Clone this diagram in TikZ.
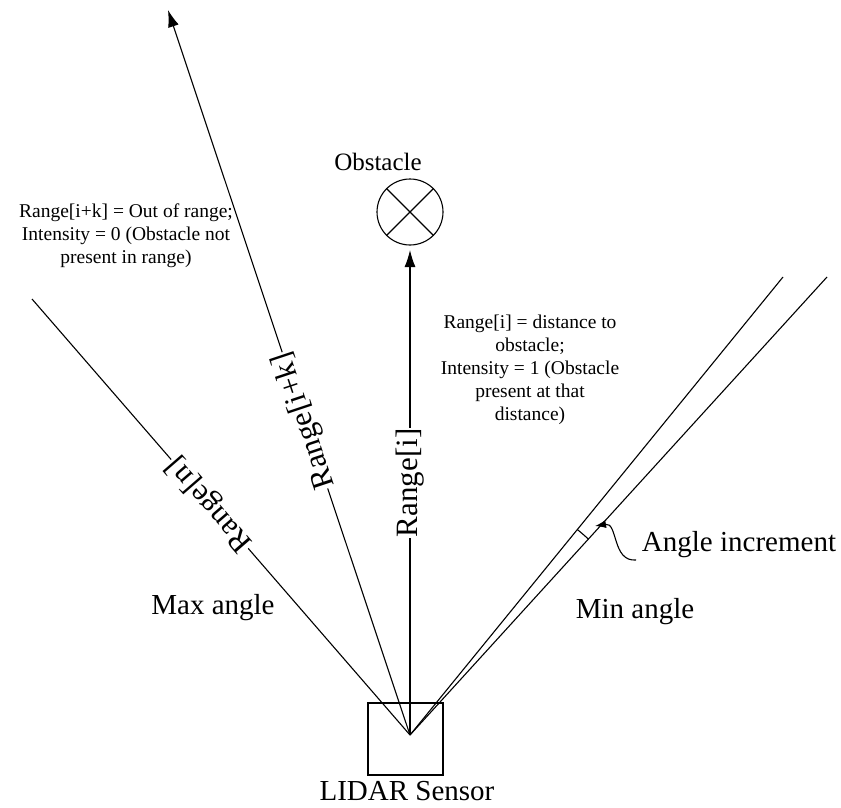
\documentclass[tikz,border=0pt]{standalone}
\usepackage{fontspec}
\setmainfont{Liberation Serif}
\usetikzlibrary{arrows.meta,calc}
\tikzstyle{ray} = [line width=1.1pt]
\tikzstyle{arrow} = [line width=1.1pt,-{Latex[length=17pt,width=11pt]}]
\tikzstyle{pointer} = [line width=1.1pt,-{Latex[length=11pt,width=8pt]}]
\tikzstyle{tag} = [fill=white,inner sep=1pt,font=\fontsize{31}{36}\selectfont,sloped,allow upside down]
\tikzstyle{note} = [align=center,font=\fontsize{19.5}{23}\selectfont]
\tikzstyle{big} = [font=\fontsize{29}{34}\selectfont]

\begin{document}
\begin{tikzpicture}[x=1pt,y=-1pt]
\useasboundingbox (0,0) rectangle (841,808);
\coordinate (apex) at (410,735);
\coordinate (maxend) at (32,299);
\coordinate (outend) at (168,10);
\coordinate (hit) at (410,250);
\coordinate (minend) at (783,277);
\coordinate (incend) at (827,277);
\coordinate (tip) at (595,526);
\coordinate (curlstart) at (636,560);
\node[draw,line width=1.3pt,minimum width=75pt,minimum height=72pt] (sensor) at (405.5,739) {};
\node[big] (sensorname) at (407,791) {LIDAR Sensor};
\node[draw,circle,line width=1.1pt,minimum size=66pt,inner sep=0pt] (obstacle) at (410,212) {};
\draw[ray] (obstacle.45) -- (obstacle.225);
\draw[ray] (obstacle.135) -- (obstacle.-45);
\node[font=\fontsize{25}{30}\selectfont] (obstaclename) at (378,162) {Obstacle};
\draw[ray] (apex) -- node[tag,pos=0.53] {Range[n]} (maxend);
\draw[arrow] (apex) -- node[tag,pos=0.434] {Range[i+k]} (outend);
\draw[arrow] (apex) -- node[tag,pos=0.52] {Range[i]} (hit);
\draw[ray] (apex) -- (minend);
\draw[ray] (apex) -- (incend);
\draw[ray] ($(apex)!265pt!(incend)$) arc[start angle=-47.67,end angle=-50.84,radius=265];
\node[big] (incname) at (739,545) {Angle increment};
\draw[pointer] (curlstart) .. controls (612,562) and (618,522) .. (tip);
\node[big] (maxname) at (213,608) {Max angle};
\node[big] (minname) at (635,612) {Min angle};
\node[note] (outnote) at (126,236) {Range[i+k] = Out of range;\\Intensity = 0 (Obstacle not\\present in range)};
\node[note] (hitnote) at (530,370) {Range[i] = distance to\\obstacle;\\Intensity = 1 (Obstacle\\present at that\\distance)};
\end{tikzpicture}
\end{document}
